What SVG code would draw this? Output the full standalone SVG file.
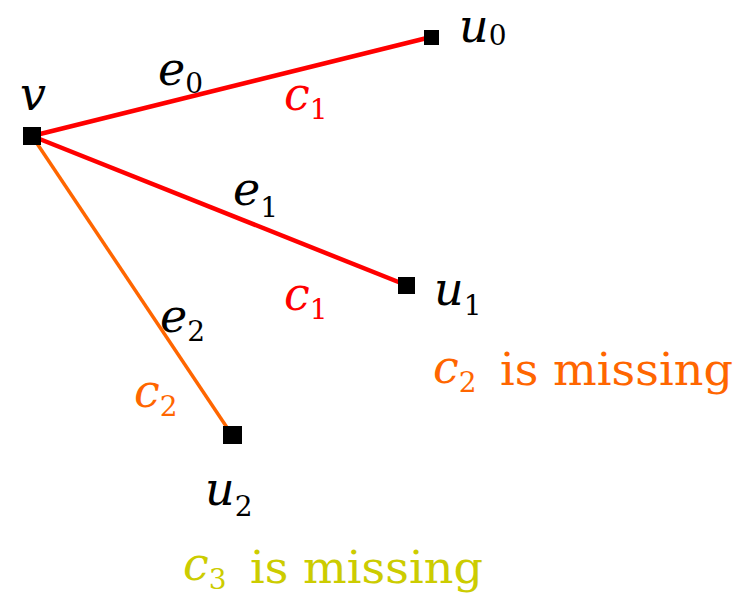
<svg xmlns="http://www.w3.org/2000/svg" width="743" height="600" viewBox="0 0 743 600">
<style>
.m{font-family:"DejaVu Serif","Liberation Serif",serif;font-style:italic;font-size:46px}
.s{font-family:"DejaVu Serif","Liberation Serif",serif;font-style:normal;font-size:28px}
.t{font-family:"DejaVu Serif","Liberation Serif",serif;font-size:44px}
.node{fill:#000}
.red{stroke:#ff0000;stroke-width:4.5;fill:none}
.org{stroke:#ff6600;stroke-width:3.5;fill:none}
</style>
<rect width="743" height="600" fill="#fff"/>
<g id="connectors">
<line class="red" x1="32" y1="136" x2="431" y2="37"/>
<line class="red" x1="32" y1="136" x2="406" y2="285"/>
<line class="org" x1="32" y1="136" x2="232" y2="435"/>
</g>
<g id="node-v"><rect class="node" x="23" y="127" width="18" height="18"/><text class="m" x="20" y="110">v</text></g>
<g id="node-u0"><rect class="node" x="424" y="30" width="15" height="15"/><text class="m" x="459" y="42">u<tspan class="s" dy="3">0</tspan></text></g>
<g id="node-u1"><rect class="node" x="398" y="277" width="17" height="17"/><text class="m" x="434" y="305">u<tspan class="s" dy="10">1</tspan></text></g>
<g id="node-u2"><rect class="node" x="223" y="426" width="19" height="18"/><text class="m" x="205" y="505">u<tspan class="s" dy="11">2</tspan></text></g>
<g id="labels">
<text class="m" x="158" y="85">e<tspan class="s" dy="8">0</tspan></text>
<text class="m" x="284" y="110" fill="#ff0000">c<tspan class="s" dy="9">1</tspan></text>
<text class="m" x="233" y="205">e<tspan class="s" dy="12">1</tspan></text>
<text class="m" x="284" y="310" fill="#ff0000">c<tspan class="s" dy="9">1</tspan></text>
<text class="m" x="160" y="332">e<tspan class="s" dy="9">2</tspan></text>
<text class="m" x="134" y="407" fill="#ff6600">c<tspan class="s" dy="9">2</tspan></text>
<text class="m" x="433" y="383" fill="#ff6600">c<tspan class="s" dy="9">2</tspan></text>
<text class="t" x="500" y="385" fill="#ff6600" textLength="233" lengthAdjust="spacingAndGlyphs">is missing</text>
<text class="m" x="183" y="580" fill="#cccc00">c<tspan class="s" dy="9">3</tspan></text>
<text class="t" x="250" y="583" fill="#cccc00" textLength="233" lengthAdjust="spacingAndGlyphs">is missing</text>
</g>
</svg>
